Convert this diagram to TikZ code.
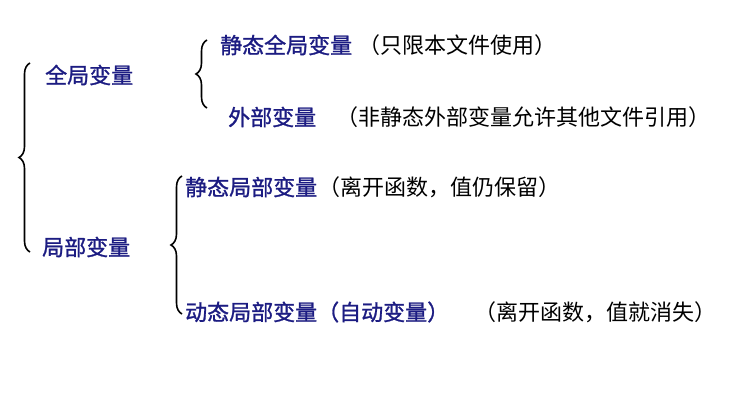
\documentclass[tikz,border=0pt]{standalone}
\usepackage{fontspec}
\newfontfamily\cjk[AutoFakeBold=1.2]{Noto Sans CJK SC}
\usetikzlibrary{decorations.pathreplacing}
\definecolor{termblue}{RGB}{28,28,130}
\begin{document}
\begin{tikzpicture}[x=1pt,y=-1pt,
				every node/.style={anchor=west, inner sep=0pt, font=\cjk\fontsize{22}{22}\selectfont},
				term/.style={text=termblue, font=\cjk\bfseries\fontsize{22}{22}\selectfont},
				note/.style={text=black},
				bracket/.style={decorate, decoration={brace, amplitude=11pt}, line width=1.6pt}
			]
			\useasboundingbox (0,0) rectangle (735,406);
			% first level
			\node[term] (global) at (45,75) {全局变量};
			\node[term] (local) at (42,247) {局部变量};
			\draw[bracket] (30,252) -- (30,63);
			% global variables
			\node[term] (sglobal) at (220,45) {静态全局变量};
			\node[note] (sglobalnote) at (358,45) {（只限本文件使用）};
			\node[term] (extern) at (228,117) {外部变量};
			\node[note] (externnote) at (336,117) {（非静态外部变量允许其他文件引用）};
			\draw[bracket] (207,108) -- (207,40);
			% local variables
			\node[term] (slocal) at (185,187) {静态局部变量};
			\node[note] (slocalnote) at (318,187) {（离开函数，值仍保留）};
			\node[term] (auto) at (185,312) {动态局部变量（自动变量）};
			\node[note] (autonote) at (474,312) {（离开函数，值就消失）};
			\draw[bracket] (182,314) -- (182,176);
		\end{tikzpicture}
\end{document}
